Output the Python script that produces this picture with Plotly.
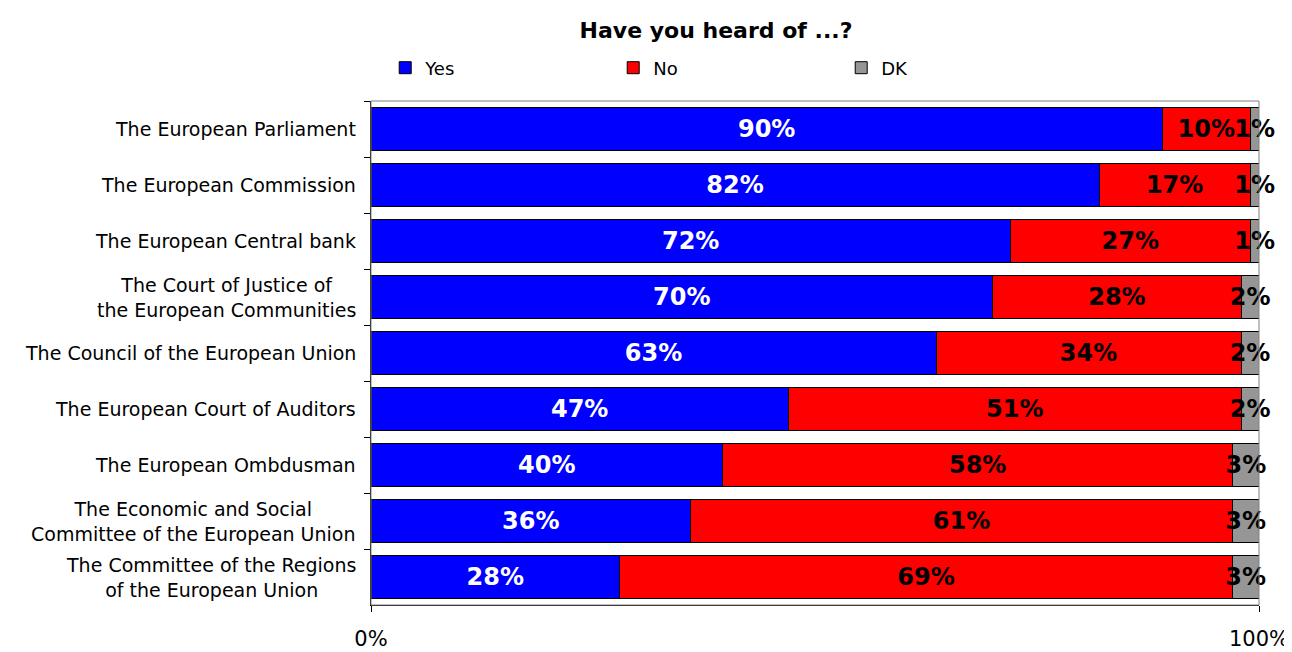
import plotly.graph_objects as go

categories = [
    "The European Parliament",
    "The European Commission",
    "The European Central bank",
    "The Court of Justice of<br>the European Communities",
    "The Council of the European Union",
    "The European Court of Auditors",
    "The European Ombdusman",
    "The Economic and Social<br>Committee of the European Union",
    "The Committee of the Regions<br>of the European Union",
]
yes_vals = [90, 82, 72, 70, 63, 47, 40, 36, 28]
no_vals = [10, 17, 27, 28, 34, 51, 58, 61, 69]
dk_vals = [1, 1, 1, 2, 2, 2, 3, 3, 3]
series_names = ["Yes", "No", "DK"]
x_ticks = [0, 100]
x_tick_labels = ["0%", "100%"]

colors = ["#0000FF", "#FF0000", "#969696"]
text_colors = ["white", "black", "black"]

# page body has an 8px margin, so the figure is drawn 8px smaller and offset
W, H = 1284, 644

fig = go.Figure()
for name, vals, col, tcol in zip(series_names, [yes_vals, no_vals, dk_vals], colors, text_colors):
    fig.add_trace(go.Bar(
        y=categories, x=vals, name=name, orientation="h",
        marker=dict(color=col, line=dict(color="black", width=1)),
        text=[f"{v}%" for v in vals],
        textposition="inside", insidetextanchor="middle",
        constraintext="none", textangle=0, cliponaxis=False,
        textfont=dict(family="DejaVu Sans", size=24, color=tcol, weight="bold"),
        hoverinfo="skip",
    ))

for c in categories:
    fig.add_annotation(
        x=0, xref="paper", y=c, yref="y", text=c, showarrow=False,
        xanchor="right", xshift=-13, align="center",
        font=dict(family="DejaVu Sans", size=19, color="black"),
    )

fig.add_shape(type="rect", xref="paper", yref="paper", x0=0, x1=1, y0=0, y1=1,
              line=dict(color="#808080", width=1), layer="above")

plot_h = H - 93 - 47
fig.update_layout(
    width=W, height=H,
    barmode="stack", barnorm="percent", bargap=0.22,
    plot_bgcolor="white", paper_bgcolor="white",
    margin=dict(l=363, r=33, t=93, b=47, autoexpand=False),
    title=dict(text="<b>Have you heard of ...?</b>", x=708 / W, xanchor="center",
               y=1 - 22 / H, yanchor="middle",
               font=dict(family="DejaVu Sans", size=22, color="black")),
    legend=dict(orientation="h", x=0.016, xanchor="left", y=1 + 33 / plot_h, yanchor="middle",
                entrywidth=183, entrywidthmode="pixels",
                font=dict(family="DejaVu Sans", size=18, color="black"),
                traceorder="normal", itemclick=False),
    showlegend=True,
)
fig.update_xaxes(range=[0, 100], tickvals=x_ticks, ticktext=x_tick_labels,
                 showgrid=False, zeroline=False, showline=True, linecolor="black",
                 ticks="outside", ticklen=6, tickcolor="black", ticklabelstandoff=9,
                 automargin=False,
                 tickfont=dict(family="DejaVu Sans", size=21, color="black"))
fig.update_yaxes(autorange="reversed", showticklabels=False, showgrid=False,
                 showline=True, linecolor="black", ticks="outside", ticklen=6,
                 tickson="boundaries", tickcolor="black", automargin=False)

fig.write_html("out.html")
